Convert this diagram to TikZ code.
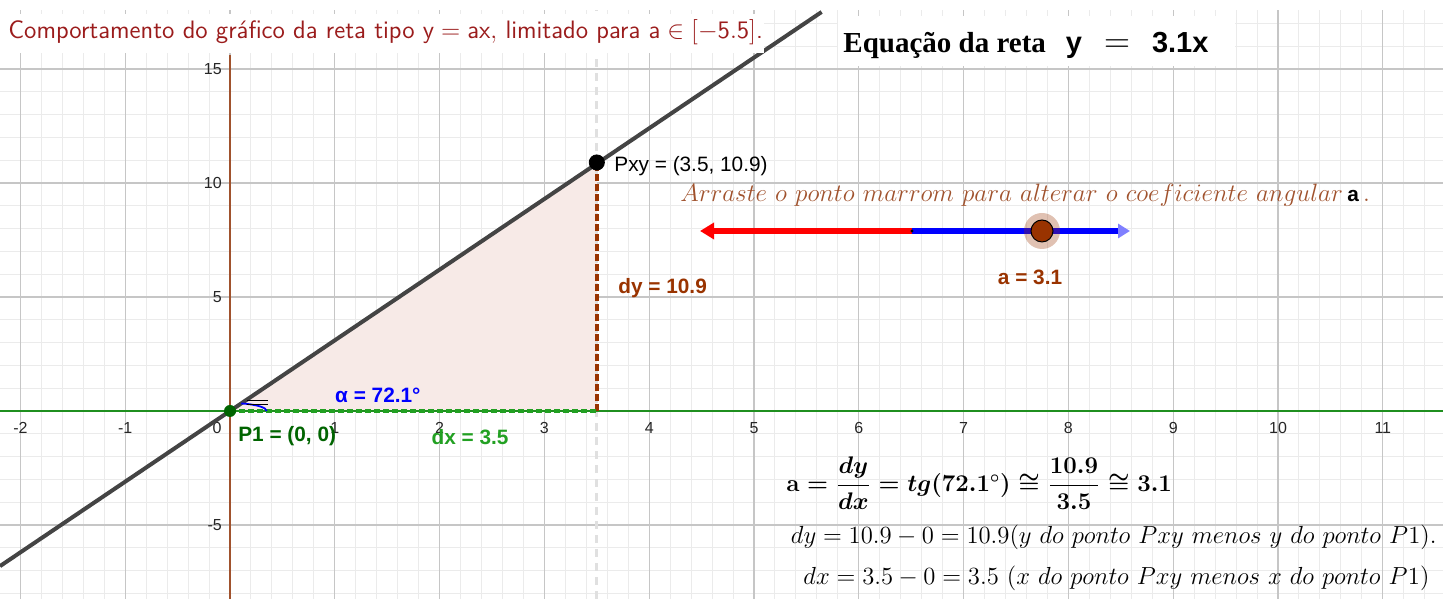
\RequirePackage{fix-cm}
\documentclass[tikz,border=0pt]{standalone}
\usepackage{amsmath,amssymb}
\usepackage{fontspec}
\newfontfamily\arialfont{Liberation Sans}
\newfontfamily\timesfont{Liberation Serif}
\usetikzlibrary{arrows.meta}
\definecolor{titlered}{HTML}{9B1C1C}
\definecolor{ggbrown}{HTML}{993300}
\definecolor{siennatxt}{HTML}{A0522D}
\definecolor{axgreen}{HTML}{1F8F1F}
\definecolor{ptgreen}{HTML}{006400}
\definecolor{dxgreen}{HTML}{22A022}
\definecolor{linegray}{HTML}{444444}
\definecolor{trifill}{HTML}{F7EAE7}
\definecolor{majgrid}{HTML}{C6C6C6}
\definecolor{mingrid}{HTML}{EBEBEB}
\definecolor{tipblue}{HTML}{8080FF}
\tikzset{
  ticklab/.style={font=\arialfont\fontsize{8}{9}\selectfont, text=black!85, inner sep=0pt},
  ggblabel/.style={font=\arialfont\fontsize{10.4}{12}\selectfont\bfseries, inner sep=0pt, anchor=west},
  mathline/.style={font=\fontsize{12.35}{14}\selectfont, inner sep=0pt},
}
\begin{document}
\begin{tikzpicture}[x=52.4pt, y=11.4pt]
  \useasboundingbox (-2.1947,-8.2456) rectangle (11.5744,18.026); %
  \draw[mingrid, line width=0.5pt] (-2.1947,-8.2456) grid[xstep=0.2, ystep=1] (11.5744,17.6); %
  \draw[majgrid, line width=0.6pt] (-2.1947,-8.2456) grid[xstep=1, ystep=5] (11.5744,17.6); %
  \coordinate (O) at (0,0); %
  \coordinate (Pxy) at (3.5,10.9); %
  \coordinate (Q) at (3.5,0); %
  \fill[trifill] (O) -- (Pxy) -- (Q) -- cycle; %
  \draw[black!12, line width=1.5pt, dash pattern=on 4pt off 3pt] (3.5,-8.2456) -- (3.5,17.6); %
  \foreach \x in {-2,-1,1,2,...,11} \node[ticklab] (tx\x) at (\x,-0.75) {\x}; %
  \node[ticklab] (tx0) at (-0.124,-0.75) {0}; %
  \foreach \y in {-5,5,10,15} \node[ticklab, anchor=east] (ty\y) at (-0.075,\y) {\y}; %
  \draw[axgreen, line width=1.2pt] (-2.1947,0) -- (11.5744,0); %
  \draw[siennatxt, line width=1.2pt] (0,-8.2456) -- (0,15.6); %
  \draw[linegray, line width=2pt] (-2.1947,-6.804) -- (5.645,17.5); %
  \fill[white] (-2.1947,15.7) rectangle (5.1,17.41); %
  \fill[white] (5.8,15.13) rectangle (9.59,17.32); %
  \draw[ggbrown, line width=2.2pt, dash pattern=on 3.5pt off 1.5pt] (Q) -- (Pxy); %
  \draw[dxgreen, line width=2.4pt, dash pattern=on 3pt off 1.5pt] (O) -- (Q); %
  \draw[blue, line width=0.9pt] (0.35,0) arc[x radius=0.35, y radius=0.35, start angle=0, end angle=72.1]; %
  \draw[black, line width=0.5pt] (0.16,0.45) -- (0.36,0.45) (0.16,0.3) -- (0.36,0.3); %
  \fill[ptgreen] (O) circle[radius=3pt]; %
  \draw[black, fill=black] (Pxy) circle[radius=3.8pt]; %
  % controle deslizante
  \coordinate (SL) at (4.485,7.895); %
  \coordinate (SM) at (6.508,7.895); %
  \coordinate (SR) at (8.588,7.895); %
  \coordinate (Sa) at (7.748,7.895); %
  \draw[red, line width=3pt, -{Triangle[length=7pt, width=8pt]}] (SM) -- (SL); %
  \draw[blue, line width=3pt, -{Triangle[length=6pt, width=7pt, color=tipblue]}] (SM) -- (SR); %
  \fill[black] (SM) circle[radius=0.8pt]; %
  \fill[ggbrown, fill opacity=0.3] (Sa) circle[radius=9pt]; %
  \draw[black, fill=ggbrown, line width=0.5pt] (Sa) circle[radius=5.5pt]; %
  % textos
  \node[anchor=west, inner sep=0pt, text=titlered, font=\sffamily\fontsize{12.6}{15}\selectfont] (title) at (-2.118,16.62)
    {Comportamento do gráfico da reta tipo $\mathsf{y}=\mathsf{ax},$ limitado para $\mathsf{a}\in[-\mathsf{5.5}]$.}; %
  \node[anchor=west, inner sep=0pt, font=\fontsize{14.5}{17}\selectfont] (eqreta) at (5.85,16.05)
    {{\timesfont\bfseries Equação da reta}\hspace{10pt}{\arialfont\bfseries\fontsize{14.5}{17}\selectfont y\hspace{11pt}{\fontsize{18}{18}\selectfont$=$}\hspace{11pt}3.1x}}; %
  \node[ggblabel, font=\arialfont\fontsize{10.4}{12}\selectfont] (pxylab) at (3.664,10.746) {Pxy = (3.5, 10.9)}; %
  \node[ggblabel, text=ggbrown] (dylab) at (3.702,5.395) {dy = 10.9}; %
  \node[ggblabel, text=blue] (alab) at (1.0,0.70) {α = 72.1°}; %
  \node[ggblabel, text=ptgreen] (p1lab) at (0.076,-1.096) {P1 = (0, 0)}; %
  \node[ggblabel, text=dxgreen, anchor=center] (dxlab) at (2.29,-1.14) {dx = 3.5}; %
  \node[ggblabel, text=ggbrown, anchor=center] (slab) at (7.634,5.877) {a = 3.1}; %
  \node[mathline, anchor=west, text=siennatxt, font=\fontsize{12.55}{14}\selectfont] (arraste) at (4.294,9.47)
    {$Arraste\ o\ ponto\ marrom\ para\ alterar\ o\ coeficiente\ angular$\,\textcolor{black}{\arialfont\bfseries\fontsize{10.4}{12}\selectfont a}\,.}; %
  \node[anchor=west, inner sep=0pt, font=\fontsize{12}{14}\selectfont\boldmath] (formula) at (5.305,-3.158)
    {$\mathbf{a} = \dfrac{dy}{dx} = tg(72.1^\circ) \cong \dfrac{10.9}{3.5} \cong 3.1$}; %
  \node[mathline, anchor=east] (dyline) at (11.517,-5.526)
    {$dy = 10.9 - 0 = 10.9(y\ do\ ponto\ Pxy\ menos\ y\ do\ ponto\ P1).$}; %
  \node[mathline, anchor=west] (dxline) at (5.468,-7.32)
    {$dx = 3.5 - 0 = 3.5\ (x\ do\ ponto\ Pxy\ menos\ x\ do\ ponto\ P1)$}; %
\end{tikzpicture}
\end{document}
